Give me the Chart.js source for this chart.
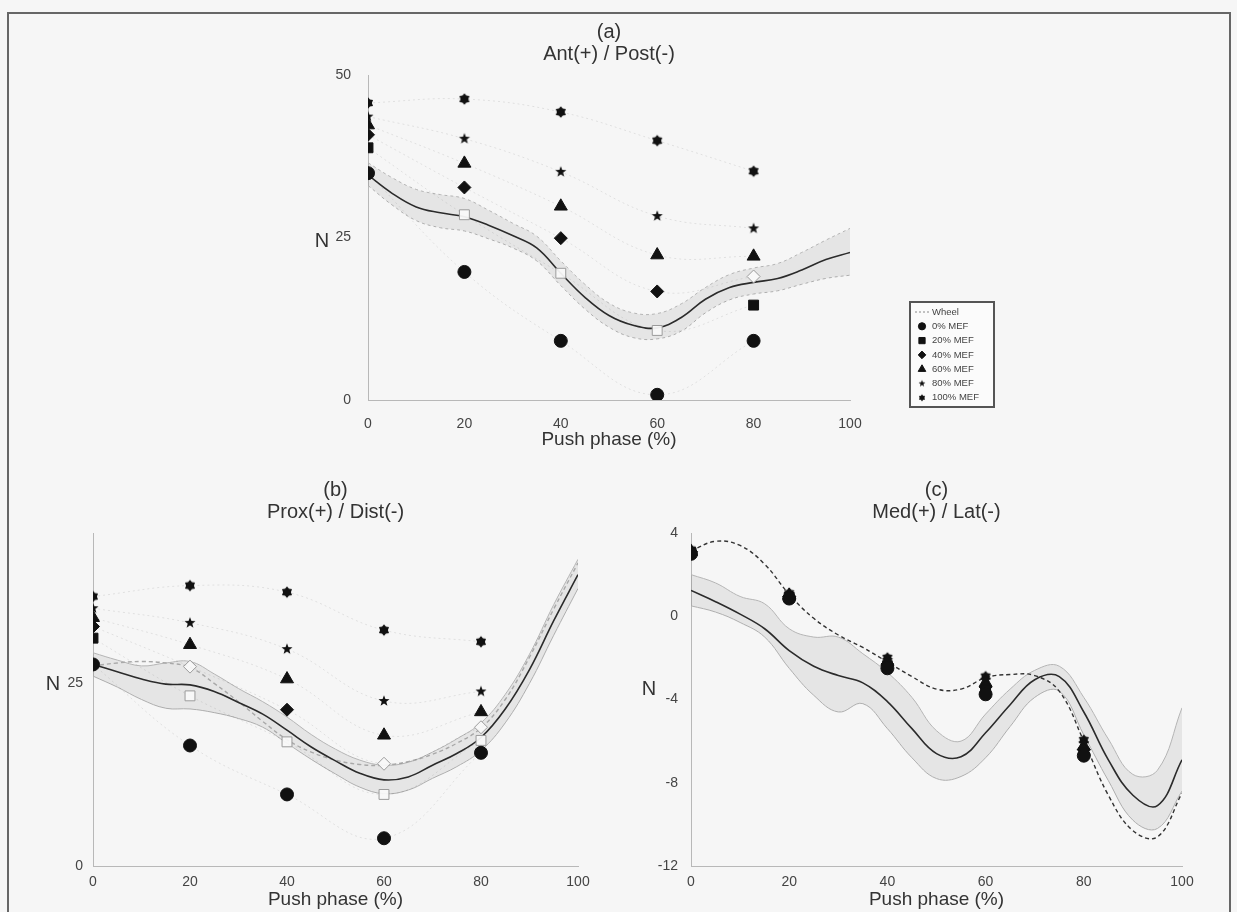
<!DOCTYPE html>
<html>
<head>
<meta charset="utf-8">
<script src="https://cdn.jsdelivr.net/npm/chart.js@4.4.1/dist/chart.umd.min.js"></script>
<style>
  html, body { margin: 0; padding: 0; background: #f6f6f6; }
  body { width: 1237px; height: 912px; position: relative; overflow: hidden; }
  .frame { position: absolute; left: 7px; top: 12px; width: 1224px; height: 906px; border: 2px solid #666; box-sizing: border-box; }
  canvas { position: absolute; }
</style>
</head>
<body>
<div class="frame"></div>
<canvas id="chartA" width="740" height="450" style="left:280px; top:10px"></canvas>
<canvas id="chartB" width="610" height="442" style="left:10px; top:470px"></canvas>
<canvas id="chartC" width="610" height="442" style="left:620px; top:470px"></canvas>

<script>
// --- data ---------------------------------------------------------------
const phaseTicks = [0, 20, 40, 60, 80, 100];
const mefPhase = [0, 20, 40, 60, 80];
const curveX = [0, 5, 10, 15, 20, 25, 30, 35, 40, 45, 50, 55, 60, 65, 70, 75, 80, 85, 90, 95, 100];
const mefLabels = ['0% MEF', '20% MEF', '40% MEF', '60% MEF', '80% MEF', '100% MEF'];

// (a) Ant(+) / Post(-)
const antTicks = [0, 25, 50];
const antMef = [
    [34.9, 19.7, 9.1, 0.8, 9.1],
    [38.8, 28.5, 19.5, 10.7, 14.6],
    [40.8, 32.7, 24.9, 16.7, 19.0],
    [42.3, 36.4, 29.8, 22.3, 22.1],
    [43.6, 40.2, 35.1, 28.3, 26.4],
    [45.7, 46.3, 44.3, 39.9, 35.2]
];
const antMean  = [34.6, 31.8, 29.7, 28.8, 28.2, 26.9, 25.3, 23.4, 19.5, 15.8, 13.0, 11.5, 11.1, 12.7, 15.5, 17.3, 18.1, 18.7, 20.0, 21.6, 22.7];
const antUpper = [36.5, 34.2, 32.4, 31.6, 31.0, 29.2, 27.2, 25.2, 21.4, 17.8, 14.9, 13.4, 13.3, 14.8, 17.3, 19.3, 20.3, 21.0, 22.7, 24.6, 26.4];
const antLower = [33.0, 30.0, 27.6, 26.5, 26.0, 24.8, 23.4, 21.4, 17.6, 14.0, 11.2, 9.6, 9.4, 10.6, 13.4, 15.4, 16.3, 16.8, 17.8, 18.7, 19.2];

// (b) Prox(+) / Dist(-)
const proxTicks = [0, 25];
const proxMef = [
    [27.6, 16.5, 9.8, 3.8, 15.5],
    [31.2, 23.3, 17.0, 9.8, 17.2],
    [32.8, 27.3, 21.4, 14.0, 19.0],
    [34.0, 30.3, 25.6, 17.9, 21.1],
    [35.3, 33.3, 29.7, 22.6, 23.9],
    [36.9, 38.4, 37.5, 32.3, 30.7]
];
const proxMean  = [27.6, 26.6, 25.6, 24.9, 24.8, 23.9, 22.4, 20.8, 18.6, 16.3, 14.4, 12.7, 11.8, 12.2, 13.8, 15.4, 17.6, 21.5, 26.9, 33.6, 39.9];
const proxUpper = [29.2, 28.2, 27.4, 27.8, 28.0, 26.3, 24.3, 22.5, 20.4, 18.0, 16.0, 14.5, 13.8, 14.2, 15.6, 17.4, 19.6, 23.5, 29.0, 35.8, 42.0];
const proxLower = [26.0, 24.5, 22.8, 21.6, 21.5, 21.0, 20.2, 19.0, 16.8, 14.6, 12.6, 10.8, 9.9, 10.4, 12.0, 13.6, 15.8, 19.6, 25.0, 31.6, 38.0];
const proxWheel = [27.4, 27.8, 28.0, 27.8, 27.2, 25.0, 22.5, 19.8, 17.3, 15.6, 14.5, 13.9, 13.8, 14.3, 15.3, 16.8, 18.9, 22.8, 28.6, 35.2, 41.5];

// (c) Med(+) / Lat(-)
const medTicks = [-12, -8, -4, 0, 4];
const medMef = [
    [3.0, 0.85, -2.5, -3.75, -6.7],
    [3.05, 0.9, -2.4, -3.55, -6.55],
    [3.1, 0.95, -2.3, -3.4, -6.4],
    [3.1, 1.0, -2.2, -3.2, -6.25],
    [3.15, 1.05, -2.1, -3.05, -6.1],
    [3.2, 1.1, -2.0, -2.9, -5.95]
];
const medMean  = [1.24, 0.7, 0.1, -0.6, -1.65, -2.4, -2.85, -3.2, -4.1, -5.4, -6.6, -6.75, -5.6, -4.25, -3.05, -2.9, -4.6, -6.9, -8.6, -9.1, -6.9];
const medUpper = [2.0, 1.6, 0.95, 0.6, -0.6, -1.0, -1.0, -1.8, -2.7, -3.9, -5.5, -6.0, -4.7, -3.5, -2.6, -2.4, -3.9, -5.9, -7.6, -7.4, -4.4];
const medLower = [0.5, 0.2, -0.3, -1.0, -2.5, -3.8, -4.6, -4.2, -5.4, -6.8, -7.8, -7.7, -6.8, -5.3, -3.9, -3.6, -5.7, -7.9, -9.8, -10.2, -8.4];
const medWheel = [3.15, 3.6, 3.4, 2.5, 1.05, -0.1, -0.9, -1.5, -2.2, -2.9, -3.5, -3.5, -2.95, -2.8, -2.85, -3.6, -6.0, -8.6, -10.3, -10.6, -8.5];

// --- styling ------------------------------------------------------------
const FONT = "'Liberation Sans', Arial, Helvetica, sans-serif";

// filled pentagram / hexagram markers (MATLAB 'p' and 'h')
function starImage(points, outer, inner) {
    const size = Math.ceil(outer * 2 + 2);
    const c = document.createElement('canvas');
    c.width = c.height = size;
    const g = c.getContext('2d');
    g.fillStyle = '#111';
    g.beginPath();
    for (let i = 0; i < points * 2; i++) {
        const r = i % 2 ? inner : outer;
        const ang = -Math.PI / 2 + i * Math.PI / points;
        g.lineTo(size / 2 + r * Math.cos(ang), size / 2 + r * Math.sin(ang));
    }
    g.closePath();
    g.fill();
    return c;
}

const MARKERS = [
    { style: 'circle', radius: 6.5, small: 'circle', smallRadius: 3.6 },
    { style: 'rect', radius: 7, small: 'rect', smallRadius: 4.4 },
    { style: 'rectRot', radius: 6.5, small: 'rectRot', smallRadius: 3.8 },
    { style: 'triangle', radius: 7.5, small: 'triangle', smallRadius: 4.4 },
    { style: starImage(5, 5.8, 2.4), radius: 5, small: starImage(5, 3.6, 1.5), smallRadius: 3 },
    { style: starImage(6, 5.8, 3.9), radius: 5, small: starImage(6, 3.6, 2.4), smallRadius: 3 }
];

const xy = (xs, ys) => xs.map((x, i) => ({ x, y: ys[i] }));

function buildDatasets(mef, mean, upper, lower, wheel, opts) {
    const ds = [];
    mef.forEach((vals, k) => {
        const m = MARKERS[k];
        const hollow = (opts.hollow && opts.hollow[k]) || [];
        ds.push({
            label: mefLabels[k],
            data: xy(mefPhase, vals),
            showLine: opts.mefLines,
            borderColor: 'rgba(0,0,0,0.09)',
            borderWidth: 1,
            borderDash: [2, 3],
            tension: 0.4,
            pointStyle: m.style,
            pointRadius: m.radius,
            pointBackgroundColor: vals.map((v, i) => hollow.includes(i) ? 'rgba(248,248,248,0.95)' : '#111'),
            pointBorderColor: vals.map((v, i) => hollow.includes(i) ? '#9a9a9a' : '#111'),
            pointBorderWidth: 1,
            order: 0
        });
    });
    ds.push({
        label: 'Mean',
        data: xy(curveX, mean),
        borderColor: '#2b2b2b',
        borderWidth: 1.6,
        pointRadius: 0,
        tension: 0.4,
        order: 1
    });
    if (wheel) {
        ds.push({
            label: 'Wheel',
            data: xy(curveX, wheel),
            borderColor: opts.wheelColor,
            borderWidth: 1.4,
            borderDash: [4, 3],
            pointRadius: 0,
            tension: 0.4,
            order: 2
        });
    }
    ds.push({
        label: '+SD',
        data: xy(curveX, upper),
        borderColor: '#b4b4b4',
        borderWidth: 1,
        borderDash: opts.bandDash || [],
        backgroundColor: 'rgba(0,0,0,0.065)',
        fill: '+1',
        pointRadius: 0,
        tension: 0.4,
        order: 3
    });
    ds.push({
        label: '-SD',
        data: xy(curveX, lower),
        borderColor: '#b4b4b4',
        borderWidth: 1,
        borderDash: opts.bandDash || [],
        fill: false,
        pointRadius: 0,
        tension: 0.4,
        order: 3
    });
    return ds;
}

// title lines + upright "N" label, placed relative to the plot area
const panelText = {
    id: 'panelText',
    afterDraw(chart, args, o) {
        const { ctx, chartArea: a } = chart;
        ctx.save();
        ctx.fillStyle = '#333';
        ctx.font = `20px ${FONT}`;
        ctx.textAlign = 'center';
        ctx.textBaseline = 'middle';
        const cx = (a.left + a.right) / 2;
        o.title.forEach((t, i) => ctx.fillText(t, cx, a.top - 43 + i * 22));
        ctx.fillText('N', a.left - o.nDx, (a.top + a.bottom) / 2 + o.nDy);
        ctx.restore();
    }
};

// boxed legend to the right of panel (a)
const mefLegend = {
    id: 'mefLegend',
    afterDraw(chart, args, o) {
        if (!o.show) return;
        const { ctx, chartArea: a } = chart;
        const x0 = a.right + 60, y0 = a.bottom - 98, w = 84, h = 105;
        ctx.save();
        ctx.fillStyle = '#fbfbfb';
        ctx.fillRect(x0, y0, w, h);
        ctx.strokeStyle = '#555';
        ctx.lineWidth = 2;
        ctx.strokeRect(x0, y0, w, h);
        ctx.font = `9.5px ${FONT}`;
        ctx.textBaseline = 'middle';
        ctx.textAlign = 'left';
        ['Wheel', ...mefLabels].forEach((label, i) => {
            const y = y0 + 10 + i * 14.3;
            if (i === 0) {
                ctx.strokeStyle = '#888';
                ctx.lineWidth = 1;
                ctx.setLineDash([2, 2]);
                ctx.beginPath();
                ctx.moveTo(x0 + 5, y);
                ctx.lineTo(x0 + 19, y);
                ctx.stroke();
                ctx.setLineDash([]);
            } else {
                const m = MARKERS[i - 1];
                ctx.fillStyle = '#111';
                ctx.strokeStyle = '#111';
                Chart.helpers.drawPoint(ctx, { pointStyle: m.small, rotation: 0, radius: m.smallRadius, borderWidth: 1 }, x0 + 12, y);
            }
            ctx.fillStyle = '#444';
            ctx.fillText(label, x0 + 22, y);
        });
        ctx.restore();
    }
};

function makeChart(id, cfg) {
    const canvas = document.getElementById(id);
    // place the plot area at the wanted spot inside the canvas
    const pad = {
        left: cfg.area.left - cfg.yWidth,
        top: cfg.area.top,
        right: canvas.width - cfg.area.right,
        bottom: canvas.height - cfg.area.bottom - cfg.xHeight
    };
    return new Chart(canvas.getContext('2d'), {
        type: 'line',
        data: { datasets: cfg.datasets },
        options: {
            responsive: false,
            animation: false,
            events: [],
            layout: { padding: pad },
            scales: {
                x: {
                    type: 'linear', min: 0, max: 100,
                    afterBuildTicks: s => { s.ticks = phaseTicks.map(v => ({ value: v })); },
                    afterFit: s => { s.height = cfg.xHeight; },
                    grid: { display: false },
                    border: { display: true, color: '#b8b8b8', width: 1 },
                    ticks: { color: '#444', font: { family: FONT, size: 14 }, padding: cfg.xTickPad, maxRotation: 0, autoSkip: false },
                    title: { display: true, text: 'Push phase (%)', color: '#333', font: { family: FONT, size: 19 }, padding: { top: 0, bottom: 1 } }
                },
                y: {
                    type: 'linear', min: cfg.yMin, max: cfg.yMax,
                    afterBuildTicks: s => { s.ticks = cfg.yTicks.map(v => ({ value: v })); },
                    afterFit: s => { s.width = cfg.yWidth; },
                    grid: { display: false },
                    border: { display: true, color: '#b8b8b8', width: 1 },
                    ticks: { color: '#444', font: { family: FONT, size: 14 }, padding: cfg.yTickPad, autoSkip: false }
                }
            },
            plugins: {
                legend: { display: false },
                tooltip: { enabled: false },
                panelText: { title: cfg.title, nDx: cfg.nDx, nDy: cfg.nDy },
                mefLegend: { show: !!cfg.legend }
            }
        },
        plugins: [panelText, mefLegend]
    });
}

makeChart('chartA', {
    area: { left: 88, top: 65, right: 570, bottom: 390 },
    yWidth: 48, xHeight: 52, xTickPad: 8, yTickPad: 9,
    yMin: 0, yMax: 50, yTicks: antTicks,
    title: ['(a)', 'Ant(+) / Post(-)'], nDx: 46, nDy: 4,
    legend: true,
    datasets: buildDatasets(antMef, antMean, antUpper, antLower, null,
        { mefLines: true, bandDash: [3, 3], hollow: { 1: [1, 2, 3], 2: [4] } })
});

makeChart('chartB', {
    area: { left: 83, top: 63, right: 568, bottom: 396 },
    yWidth: 46, xHeight: 46, xTickPad: 0, yTickPad: 2,
    yMin: 0, yMax: 45.6, yTicks: proxTicks,
    title: ['(b)', 'Prox(+) / Dist(-)'], nDx: 40, nDy: -15,
    datasets: buildDatasets(proxMef, proxMean, proxUpper, proxLower, proxWheel,
        { mefLines: true, wheelColor: '#a8a8a8', hollow: { 1: [1, 2, 3, 4], 2: [1, 3, 4] } })
});

makeChart('chartC', {
    area: { left: 71, top: 63, right: 562, bottom: 396 },
    yWidth: 48, xHeight: 46, xTickPad: 0, yTickPad: 5,
    yMin: -12, yMax: 4, yTicks: medTicks,
    title: ['(c)', 'Med(+) / Lat(-)'], nDx: 42, nDy: -10,
    datasets: buildDatasets(medMef, medMean, medUpper, medLower, medWheel,
        { mefLines: false, wheelColor: '#333' })
});
</script>
</body>
</html>
